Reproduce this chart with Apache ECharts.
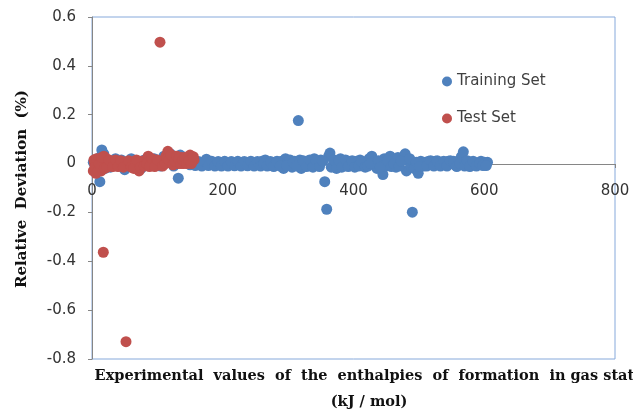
<!DOCTYPE html>
<html>
<head>
<meta charset="utf-8">
<script src="https://cdn.jsdelivr.net/npm/echarts@6/dist/echarts.min.js"></script>
<style>
  html, body { margin: 0; padding: 0; background: #fff; }
  #main { width: 633px; height: 409px; }
</style>
</head>
<body>
<div id="main"></div>
<script type="text/javascript">
// enthalpy of formation (kJ/mol) vs relative deviation (%)
var trainingSet = [
  [2,0.005],[5,-0.01],[8,0.02],[10,-0.03],[12,-0.074],[14,0.03],[15,0.056],[18,0.04],[20,-0.02],[24,0.01],
  [28,-0.015],[32,0.005],[36,0.02],[40,-0.01],[45,0.015],[50,-0.025],[55,0.005],[60,0.02],[65,-0.01],[70,0.01],
  [75,-0.02],[80,0.015],[85,-0.005],[90,0.01],[95,0.02],[100,0.005],[105,-0.01],[110,0.03],[115,0.01],[120,0.04],
  [125,-0.01],[132,-0.06],[135,0.035],[140,0.02],[145,0.01],[150,-0.005],[155,0.01],[160,0.0],[165,-0.005],[170,0.005],
  [175,0.018],[180,0.0],[185,0.005],[190,-0.005],[195,0.0],[200,0.005],[205,-0.005],[210,0.0],[215,0.005],[220,-0.005],
  [225,0.0],[230,0.005],[235,-0.005],[240,0.0],[245,0.005],[250,-0.005],[255,0.0],[260,0.01],[265,0.015],[270,0.0],
  [275,-0.005],[280,0.005],[285,0.0],[290,0.01],[293,-0.02],[296,0.02],[300,0.005],[303,0.015],[306,-0.015],[310,0.01],
  [315.6,0.176],[318,0.015],[320,-0.02],[325,0.005],[330,0.01],[335,-0.01],[340,0.02],[345,0.0],[350,0.015],[356,-0.074],
  [359,-0.187],[362,0.03],[364,0.043],[368,-0.01],[372,0.01],[376,0.0],[380,0.02],[385,-0.01],[390,0.01],[395,0.005],
  [400,-0.005],[405,0.01],[410,0.015],[415,-0.01],[420,0.005],[424,0.02],[428,0.03],[432,0.01],[436,-0.02],[445,-0.045],
  [443,0.01],[447,0.02],[450,-0.01],[456,0.03],[460,0.015],[465,-0.015],[468,0.025],[475,0.02],[479,0.04],[481,-0.03],
  [484,0.01],[488,-0.01],[490,-0.199],[493,-0.02],[499,-0.04],[503,0.01],[507,-0.01],[510,0.005],[515,0.01],[520,-0.005],
  [525,0.01],[530,0.0],[535,0.005],[540,-0.005],[545,0.01],[550,0.0],[555,-0.005],[560,0.01],[565,0.028],[568,0.048],
  [572,0.01],[576,-0.005],[580,0.005],[585,0.0],[590,-0.005],[595,0.01],[600,0.005],[605,0.005],
  [158,-0.008],[163,0.008],[168,-0.01],[173,0.006],[178,-0.008],[183,0.01],[188,-0.01],[193,0.008],[198,-0.01],[203,0.009],
  [208,-0.01],[213,0.008],[218,-0.009],[223,0.009],[228,-0.01],[233,0.008],[238,-0.009],[243,0.01],[248,-0.01],[253,0.008],
  [258,-0.01],[263,0.0],[268,-0.01],[273,0.008],[278,-0.012],[283,0.01],[288,-0.01],[298,-0.008],[308,0.005],[313,-0.01],
  [323,0.012],[328,-0.012],[333,0.015],[338,-0.015],[343,0.012],[348,-0.012],[353,0.01],[366,-0.015],[370,0.015],[374,-0.02],
  [378,0.012],[382,-0.015],[388,0.015],[392,-0.012],[398,0.012],[402,-0.015],[408,-0.01],[412,0.01],[418,-0.015],[422,-0.01],
  [426,0.0],[438,0.012],[441,-0.015],[452,0.012],[458,-0.012],[462,0.0],[470,-0.01],[473,0.01],[486,0.02],[496,0.005],
  [501,-0.012],[512,-0.01],[518,0.012],[523,-0.01],[528,0.012],[533,-0.01],[538,0.01],[543,-0.01],[548,0.012],[553,0.01],
  [558,-0.012],[563,0.0],[570,-0.01],[574,0.012],[578,-0.012],[583,0.01],[588,-0.01],[593,0.0],[598,-0.008],[603,-0.008]
];
var testSet = [
  [2,-0.03],[4,0.0],[6,-0.04],[8,0.01],[10,-0.02],[12,0.02],[14,-0.03],[16,0.01],[17.3,-0.363],[18,0.03],
  [20,-0.01],[22,0.02],[25,0.0],[28,0.01],[30,-0.01],[34,0.005],[38,0.0],[42,0.01],[46,-0.005],[50,0.005],
  [52,-0.729],[54,0.0],[58,-0.01],[62,0.005],[66,0.01],[70,-0.02],[72,-0.03],[75,0.01],[78,0.0],[82,0.015],
  [86,0.03],[90,0.01],[94,0.0],[98,0.01],[102,-0.005],[104,0.497],[106,0.005],[110,0.01],[113,0.03],[116,0.05],
  [119,0.04],[122,0.01],[125,0.02],[128,0.03],[131,0.0],[134,0.01],[137,0.025],[140,0.0],[143,0.01],[146,0.02],
  [150,0.035],[153,0.01],[156,0.015],
  [3,0.015],[5,-0.015],[7,0.02],[9,-0.03],[11,0.0],[13,-0.015],[15,0.025],[19,-0.02],[23,-0.015],[26,0.015],
  [32,-0.012],[36,0.015],[40,-0.012],[44,0.012],[48,-0.015],[56,0.012],[60,-0.015],[64,-0.02],[68,0.015],[74,-0.015],
  [80,-0.01],[84,0.0],[88,-0.012],[92,0.02],[96,-0.012],[100,0.015],[108,-0.01],[112,0.0],[115,0.02],[118,0.015],
  [121,0.035],[124,-0.005],[127,0.01],[130,0.03],[133,0.02],[136,0.0],[139,0.015],[142,0.025],[145,0.0],[148,0.012],
  [152,0.0],[155,0.028]
];
var seriesNames = ['Training Set', 'Test Set'];
var xTitle = 'Experimental  values  of  the  enthalpies  of  formation  in gas state\n(kJ / mol)';
var yTitle = 'Relative  Deviation  (%)';

var myChart = echarts.init(document.getElementById('main'));
var option = {
  animation: false,
  grid: {
    left: 92, right: 18, top: 17, bottom: 50,
    show: true, borderColor: '#86A9DB', borderWidth: 1
  },
  legend: {
    data: seriesNames,
    orient: 'vertical',
    left: 437, top: 69,
    itemGap: 22,
    icon: 'circle',
    itemWidth: 10, itemHeight: 10,
    textStyle: { fontFamily: 'DejaVu Sans', fontSize: 15, color: '#404040' }
  },
  xAxis: {
    type: 'value',
    min: 0, max: 800, interval: 200,
    // axis sits on y = 0 (moved up from the bottom of the plot)
    offset: -195,
    axisLine: { onZero: false, lineStyle: { color: '#868686', width: 1 } },
    axisTick: { show: true, length: 4, lineStyle: { color: '#868686' } },
    axisLabel: { margin: 20, fontFamily: 'DejaVu Sans', fontSize: 15, color: '#333' },
    splitLine: { show: false }
  },
  yAxis: {
    type: 'value',
    min: -0.8, max: 0.6, interval: 0.2,
    axisLine: { show: true, onZero: false, lineStyle: { color: '#868686', width: 1 } },
    axisTick: { show: true, length: 4, lineStyle: { color: '#868686' } },
    axisLabel: { margin: 16, fontFamily: 'DejaVu Sans', fontSize: 15, color: '#333' },
    splitLine: { show: false }
  },
  graphic: [
    {
      type: 'text', x: 369, y: 363,
      style: {
        text: xTitle, textAlign: 'center',
        font: 'bold 14.5px "DejaVu Serif"', fill: '#111', lineHeight: 26
      }
    },
    {
      type: 'text', x: 22, y: 189, rotation: Math.PI / 2,
      style: {
        text: yTitle, textAlign: 'center', textVerticalAlign: 'middle',
        font: 'bold 15px "DejaVu Serif"', fill: '#111'
      }
    }
  ],
  series: [
    {
      name: seriesNames[0], type: 'scatter', symbol: 'circle', symbolSize: 11,
      itemStyle: { color: '#4F81BD', opacity: 1 }, data: trainingSet
    },
    {
      name: seriesNames[1], type: 'scatter', symbol: 'circle', symbolSize: 11,
      itemStyle: { color: '#C0504D', opacity: 1 }, data: testSet
    }
  ]
};
myChart.setOption(option);
window.addEventListener('resize', myChart.resize);
</script>
</body>
</html>
